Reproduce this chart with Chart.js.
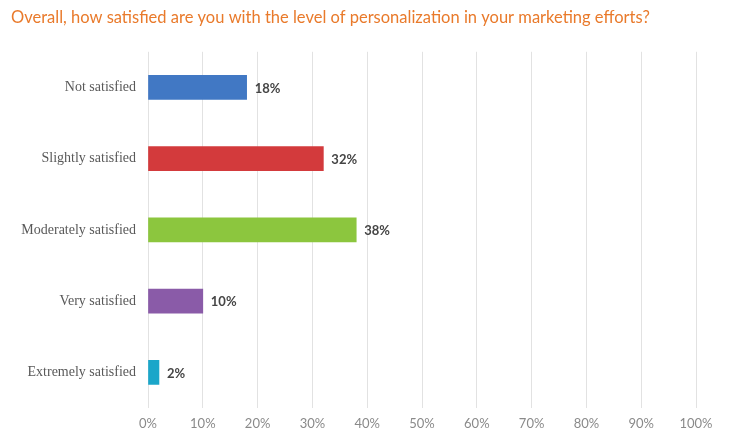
<!DOCTYPE html>
<html>
<head>
<meta charset="utf-8">
<script src="https://cdn.jsdelivr.net/npm/chart.js@4"></script>
<style>
  html, body { margin: 0; padding: 0; background: #fff; }
  #wrap { width: 736px; height: 443px; }
</style>
</head>
<body>
<div id="wrap"><canvas id="chart"></canvas></div>
<script>
const titleText = 'Overall, how satisfied are you with the level of personalization in your marketing efforts?';
const categories = ['Not satisfied', 'Slightly satisfied', 'Moderately satisfied', 'Very satisfied', 'Extremely satisfied'];
const percentages = [18, 32, 38, 10, 2];
const barColors = ['#4178C4', '#D33A3C', '#8CC63E', '#8A5BA8', '#1BA6C9'];

// etiquetas al final de cada barra
const valueLabels = {
  id: 'valueLabels',
  afterDatasetsDraw(chart) {
    const ctx = chart.ctx;
    const meta = chart.getDatasetMeta(0);
    ctx.save();
    ctx.font = 'bold 13px Lato';
    ctx.fillStyle = '#454545';
    ctx.textAlign = 'left';
    ctx.textBaseline = 'middle';
    meta.data.forEach((bar, i) => {
      ctx.fillText(percentages[i] + '%', bar.x + 8, bar.y + 1);
    });
    ctx.restore();
  }
};

new Chart(document.getElementById('chart'), {
  type: 'bar',
  data: {
    labels: categories,
    datasets: [{
      data: percentages,
      backgroundColor: barColors,
      borderWidth: 0,
      barThickness: 24
    }]
  },
  options: {
    indexAxis: 'y',
    responsive: true,
    maintainAspectRatio: false,
    animation: false,
    layout: {
      padding: { left: 11, right: 40, top: 0, bottom: 0 }
    },
    plugins: {
      legend: { display: false },
      tooltip: { enabled: false },
      title: {
        display: true,
        text: titleText,
        align: 'start',
        color: '#E97A2B',
        font: { family: 'Lato', size: 16.5, weight: 'normal' },
        padding: { top: 8, bottom: 24 }
      }
    },
    scales: {
      x: {
        min: 0,
        max: 100,
        ticks: {
          stepSize: 10,
          padding: 8,
          color: '#8a8a8a',
          font: { family: 'Lato', size: 13 },
          callback: v => v + '%'
        },
        grid: { color: '#e2e2e2', lineWidth: 1, drawTicks: false },
        border: { display: false },
        afterFit: scale => { scale.height = 35; }
      },
      y: {
        ticks: {
          padding: 12,
          color: '#595959',
          font: { family: 'Liberation Serif', size: 14 }
        },
        grid: { display: false, drawTicks: false },
        border: { display: false },
        afterFit: scale => { scale.width = 137; }
      }
    }
  },
  plugins: [valueLabels]
});
</script>
</body>
</html>
